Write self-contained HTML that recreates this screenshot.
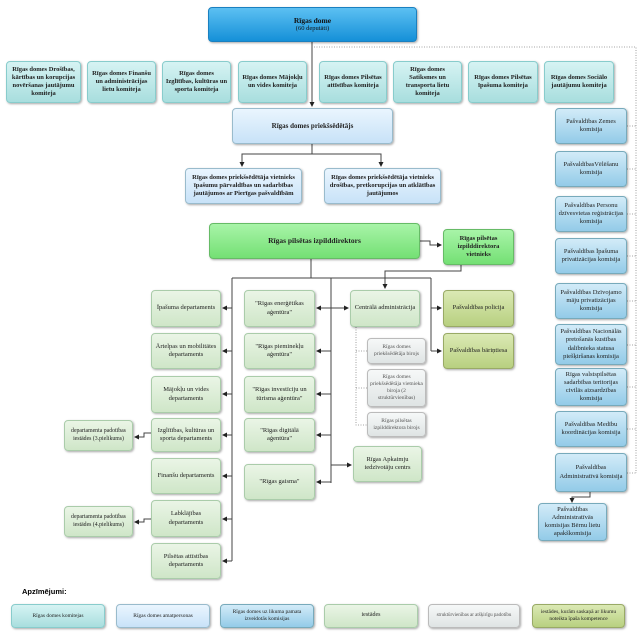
<!DOCTYPE html>
<html><head><meta charset="utf-8"><style>
body{margin:0;width:640px;height:633px;background:#fff;position:relative;overflow:hidden;font-family:"Liberation Serif",serif;}
.b{position:absolute;display:flex;align-items:center;justify-content:center;text-align:center;border-radius:4px;font-size:6.5px;line-height:1.25;color:#222;box-shadow:1px 1px 2px rgba(0,0,0,.35);box-sizing:border-box;padding:1px 2px;}
.t{background:linear-gradient(#d6f3f3,#a8dede);font-weight:bold;border:1px solid #8cc;}
.lb{background:linear-gradient(#eaf5fe,#c8e2f8);font-weight:bold;border:1px solid #9bc;}
.bl{background:linear-gradient(#d2ebf8,#93cbe8);border:1px solid #7ab;}
.g{background:linear-gradient(#eaf5e6,#cfe6c8);border:1px solid #aca;}
.gg{background:linear-gradient(#a8f4a8,#74e074);font-weight:bold;border:1px solid #6b6;}
.gr{background:linear-gradient(#f6f8f8,#dfe4e4);border:1px solid #bbb;color:#555;font-size:5.5px;}
.o{background:linear-gradient(#dbe9b4,#b8d080);border:1px solid #9a6;}
svg{position:absolute;left:0;top:0;}
</style></head><body>
<svg width="640" height="633">
<defs><marker id="a" markerWidth="5" markerHeight="5" refX="4" refY="2.5" orient="auto"><path d="M0,0L5,2.5L0,5z" fill="#222"/></marker></defs>
<g stroke="#444" stroke-width="1" fill="none">
<path d="M312 42V106" marker-end="url(#a)"/>
<path d="M312 144V154H242V166" marker-end="url(#a)"/>
<path d="M312 154H381V166" marker-end="url(#a)"/>
<path d="M420 241H430V245H441" marker-end="url(#a)"/>
<path d="M311 259V278M232 278H431"/>
<path d="M232 278V561M331 278V483"/>
<path d="M232 308H223" marker-end="url(#a)"/><path d="M232 351H223" marker-end="url(#a)"/><path d="M232 394H223" marker-end="url(#a)"/><path d="M232 435H223" marker-end="url(#a)"/><path d="M232 476H223" marker-end="url(#a)"/><path d="M232 519H223" marker-end="url(#a)"/><path d="M232 561H223" marker-end="url(#a)"/>
<path d="M331 308H317" marker-end="url(#a)"/><path d="M331 351H317" marker-end="url(#a)"/><path d="M331 394H317" marker-end="url(#a)"/><path d="M331 435H317" marker-end="url(#a)"/><path d="M331 482H317" marker-end="url(#a)"/>
<path d="M331 308H348" marker-end="url(#a)"/><path d="M331 465H351" marker-end="url(#a)"/>
<path d="M431 278V351M431 308H441" marker-end="url(#a)"/><path d="M431 351H441" marker-end="url(#a)"/>
<path d="M461 265V271H385V288" marker-end="url(#a)"/>
<path d="M151 433H144V437H135" marker-end="url(#a)"/><path d="M151 519H144V522H135" marker-end="url(#a)"/>
<path d="M590 492V497H572V502" marker-end="url(#a)"/>
</g>
<g stroke="#888" stroke-width="0.8" fill="none" stroke-dasharray="1,1.5">
<path d="M314 47H636V473"/>
<path d="M627 126H636M627 169H636M627 214H636M627 256H636M627 301H636M627 345H636M627 387H636M627 429H636M627 473H636"/>
<path d="M356 327V425H367M356 351H367M356 388H367"/>
</g>
</svg>
<div class="b" style="left:208px;top:7px;width:209px;height:35px;background:linear-gradient(#5cc0f2,#1590d8);border:1px solid #1a80c0;font-weight:bold;font-size:7.5px;color:#111;flex-direction:column">Rīgas dome<span style="font-weight:normal;font-size:6.5px">(60 deputāti)</span></div>
<div class="b t" style="left:6px;top:61px;width:75px;height:42px">Rīgas domes Drošības, kārtības un korupcijas novēršanas jautājumu komiteja</div>
<div class="b t" style="left:87px;top:61px;width:69px;height:42px">Rīgas domes Finanšu un administrācijas lietu komiteja</div>
<div class="b t" style="left:162px;top:61px;width:69px;height:42px">Rīgas domes Izglītības, kultūras un sporta komiteja</div>
<div class="b t" style="left:238px;top:61px;width:69px;height:42px">Rīgas domes Mājokļu un vides komiteja</div>
<div class="b t" style="left:319px;top:61px;width:68px;height:42px">Rīgas domes Pilsētas attīstības komiteja</div>
<div class="b t" style="left:393px;top:61px;width:69px;height:42px">Rīgas domes Satiksmes un transporta lietu komiteja</div>
<div class="b t" style="left:468px;top:61px;width:70px;height:42px">Rīgas domes Pilsētas īpašuma komiteja</div>
<div class="b t" style="left:544px;top:61px;width:70px;height:42px">Rīgas domes Sociālo jautājumu komiteja</div>
<div class="b lb" style="left:232px;top:108px;width:161px;height:36px;font-size:7px">Rīgas domes priekšsēdētājs</div>
<div class="b lb" style="left:185px;top:168px;width:117px;height:36px">Rīgas domes priekšsēdētāja vietnieks īpašumu pārvaldības un sadarbības jautājumos ar Pierīgas pašvaldībām</div>
<div class="b lb" style="left:324px;top:168px;width:117px;height:36px">Rīgas domes priekšsēdētāja vietnieks drošības, pretkorupcijas un atklātības jautājumos</div>
<div class="b bl" style="left:555px;top:108px;width:72px;height:36px">Pašvaldības Zemes komisija</div>
<div class="b bl" style="left:555px;top:151px;width:72px;height:36px">PašvaldībasVēlēšanu komisija</div>
<div class="b bl" style="left:555px;top:196px;width:72px;height:36px">Pašvaldības Personu dzīvesvietas reģistrācijas komisija</div>
<div class="b bl" style="left:555px;top:238px;width:72px;height:36px">Pašvaldības Īpašuma privatizācijas komisija</div>
<div class="b bl" style="left:555px;top:283px;width:72px;height:36px">Pašvaldības Dzīvojamo māju privatizācijas komisija</div>
<div class="b bl" style="left:555px;top:324px;width:72px;height:41px">Pašvaldības Nacionālās pretošanās kustības dalībnieka statusa piešķiršanas komisija</div>
<div class="b bl" style="left:555px;top:368px;width:72px;height:38px">Rīgas valstspilsētas sadarbības teritorijas civilās aizsardzības komisija</div>
<div class="b bl" style="left:555px;top:411px;width:72px;height:36px">Pašvaldības Medību koordinācijas komisija</div>
<div class="b bl" style="left:555px;top:453px;width:72px;height:39px">Pašvaldības Administratīvā komisija</div>
<div class="b bl" style="left:538px;top:503px;width:69px;height:38px">Pašvaldības Administratīvās komisijas Bērnu lietu apakškomisija</div>
<div class="b gg" style="left:209px;top:223px;width:211px;height:36px;font-size:7.5px">Rīgas pilsētas izpilddirektors</div>
<div class="b gg" style="left:443px;top:229px;width:71px;height:36px">Rīgas pilsētas izpilddirektora vietnieks</div>
<div class="b g" style="left:151px;top:290px;width:70px;height:37px">Īpašuma departaments</div>
<div class="b g" style="left:151px;top:333px;width:70px;height:36px">Ārtelpas un mobilitātes departaments</div>
<div class="b g" style="left:151px;top:376px;width:70px;height:37px">Mājokļu un vides departaments</div>
<div class="b g" style="left:151px;top:418px;width:70px;height:34px">Izglītības, kultūras un sporta departaments</div>
<div class="b g" style="left:151px;top:458px;width:70px;height:36px">Finanšu departaments</div>
<div class="b g" style="left:151px;top:500px;width:70px;height:37px">Labklājības departaments</div>
<div class="b g" style="left:151px;top:543px;width:70px;height:36px">Pilsētas attīstības departaments</div>
<div class="b g" style="left:64px;top:420px;width:69px;height:31px;font-size:5.8px">departamenta padotības iestādes (3.pielikums)</div>
<div class="b g" style="left:64px;top:506px;width:69px;height:31px;font-size:5.8px">departamenta padotības iestādes (4.pielikums)</div>
<div class="b g" style="left:244px;top:290px;width:71px;height:37px">"Rīgas enerģētikas aģentūra"</div>
<div class="b g" style="left:244px;top:333px;width:71px;height:36px">"Rīgas pieminekļu aģentūra"</div>
<div class="b g" style="left:244px;top:376px;width:71px;height:37px">"Rīgas investīciju un tūrisma aģentūra"</div>
<div class="b g" style="left:244px;top:418px;width:71px;height:34px">"Rīgas digitālā aģentūra"</div>
<div class="b g" style="left:244px;top:464px;width:71px;height:36px">"Rīgas gaisma"</div>
<div class="b g" style="left:350px;top:290px;width:70px;height:37px">Centrālā administrācija</div>
<div class="b g" style="left:353px;top:446px;width:69px;height:36px">Rīgas Apkaimju iedzīvotāju centrs</div>
<div class="b gr" style="left:367px;top:338px;width:59px;height:26px">Rīgas domes priekšsēdētāja birojs</div>
<div class="b gr" style="left:367px;top:369px;width:59px;height:38px">Rīgas domes priekšsēdētāja vietnieka biroja (2 struktūrvienības)</div>
<div class="b gr" style="left:367px;top:412px;width:59px;height:25px">Rīgas pilsētas izpilddirektora birojs</div>
<div class="b o" style="left:443px;top:290px;width:71px;height:37px">Pašvaldības policija</div>
<div class="b o" style="left:443px;top:333px;width:71px;height:36px">Pašvaldības bāriņtiesa</div>
<div style="position:absolute;left:22px;top:587px;font:bold 7.5px 'Liberation Sans',sans-serif">Apzīmējumi:</div>
<div class="b t" style="left:11px;top:604px;width:94px;height:24px;font-weight:normal;font-size:5.5px">Rīgas domes komitejas</div>
<div class="b lb" style="left:116px;top:604px;width:94px;height:24px;font-weight:normal;font-size:5.5px">Rīgas domes amatpersonas</div>
<div class="b bl" style="left:220px;top:604px;width:94px;height:24px;font-size:5.5px">Rīgas domes uz likuma pamata izveidotās komisijas</div>
<div class="b g" style="left:324px;top:604px;width:94px;height:24px;font-size:6px">iestādes</div>
<div class="b gr" style="left:428px;top:604px;width:92px;height:24px;font-size:5px">struktūrvienības ar atšķirīgu padotību</div>
<div class="b o" style="left:532px;top:604px;width:93px;height:24px;font-size:5.5px">iestādes, kurām saskaņā ar likumu noteikta īpaša kompetence</div>
</body></html>
